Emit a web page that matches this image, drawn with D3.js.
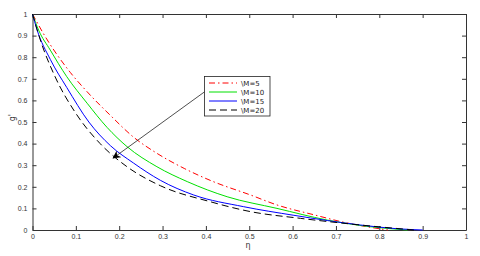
<!DOCTYPE html>
<html>
<head>
<meta charset="utf-8">
<script src="https://cdn.jsdelivr.net/npm/d3@7.9.0/dist/d3.min.js"></script>
<style>
  body { margin: 0; background: #fff; }
  svg { display: block; font-family: "DejaVu Sans", sans-serif; }
  .axis text { font-size: 7px; fill: #333; }
  .axis path, .axis line { stroke: #333; }
</style>
</head>
<body>
<div id="chart"></div>
<script>
// series values: [eta, g'] pairs
const seriesNames = ["\\M=5", "\\M=10", "\\M=15", "\\M=20"];
const m5 = [[0,1],[0.025,0.91],[0.087,0.73],[0.126,0.64],[0.18,0.53],[0.233,0.43],[0.283,0.36],[0.35,0.285],[0.417,0.224],[0.503,0.162],[0.564,0.116],[0.65,0.07],[0.72,0.035],[0.772,0.015],[0.82,0]];
const m10 = [[0,1],[0.014,0.926],[0.041,0.833],[0.079,0.71],[0.126,0.587],[0.172,0.475],[0.218,0.386],[0.287,0.293],[0.357,0.224],[0.449,0.154],[0.564,0.1],[0.68,0.046],[0.78,0.015],[0.865,0]];
const m15 = [[0,1],[0.01,0.93],[0.041,0.79],[0.079,0.66],[0.13,0.5],[0.18,0.39],[0.233,0.31],[0.295,0.23],[0.372,0.162],[0.487,0.108],[0.603,0.068],[0.757,0.023],[0.84,0.006],[0.9,0]];
const m20 = [[0,1],[0.018,0.88],[0.052,0.71],[0.1,0.54],[0.156,0.40],[0.218,0.293],[0.295,0.205],[0.41,0.131],[0.503,0.085],[0.618,0.054],[0.757,0.023],[0.88,0]];
const allSeries = [m5, m10, m15, m20];
const colors = ["#ff0000", "#00e000", "#0000ff", "#000000"];
const dashes = ["6,3,1.5,3", null, null, "7,4"];

const xTicks = [0, 0.1, 0.2, 0.3, 0.4, 0.5, 0.6, 0.7, 0.8, 0.9, 1];
const yTicks = [0, 0.1, 0.2, 0.3, 0.4, 0.5, 0.6, 0.7, 0.8, 0.9, 1];

const width = 480, height = 256;
const margin = { top: 14, right: 14, bottom: 26, left: 32.5 };

const svg = d3.select("#chart").append("svg")
  .attr("width", width).attr("height", height);

const x = d3.scaleLinear().domain([0, 1]).range([margin.left, width - margin.right]);
const y = d3.scaleLinear().domain([0, 1]).range([height - margin.bottom, margin.top]);

const fmt = (d) => (d === 0 || d === 1 ? String(d) : d3.format(".1f")(d));

// axes, ticks pointing inward like matlab
svg.append("g").attr("class", "axis")
  .attr("transform", `translate(0,${y(0)})`)
  .call(d3.axisBottom(x).tickValues(xTicks).tickFormat(fmt).tickSizeInner(-4).tickSizeOuter(0).tickPadding(4));
svg.append("g").attr("class", "axis")
  .attr("transform", `translate(0,${y(1)})`)
  .call(d3.axisTop(x).tickValues(xTicks).tickFormat("").tickSizeInner(-4).tickSizeOuter(0));
svg.append("g").attr("class", "axis")
  .attr("transform", `translate(${x(0)},0)`)
  .call(d3.axisLeft(y).tickValues(yTicks).tickFormat(fmt).tickSizeInner(-4).tickSizeOuter(0).tickPadding(5));
svg.append("g").attr("class", "axis")
  .attr("transform", `translate(${x(1)},0)`)
  .call(d3.axisRight(y).tickValues(yTicks).tickFormat("").tickSizeInner(-4).tickSizeOuter(0));

// curves
const line = d3.line()
  .x((d) => x(d[0]))
  .y((d) => y(d[1]))
  .curve(d3.curveMonotoneX);

allSeries.forEach((s, i) => {
  svg.append("path")
    .datum(s)
    .attr("d", line)
    .attr("fill", "none")
    .attr("stroke", colors[i])
    .attr("stroke-width", 1)
    .attr("stroke-dasharray", dashes[i]);
});

// axis labels
svg.append("text")
  .attr("x", x(0.497)).attr("y", 248)
  .attr("text-anchor", "middle")
  .attr("font-size", 8).attr("fill", "#333")
  .text("η");
svg.append("text")
  .attr("transform", `translate(15,${y(0.52)}) rotate(-90)`)
  .attr("text-anchor", "middle")
  .attr("font-size", 8).attr("fill", "#333")
  .text("g'");

// arrow annotation
svg.append("defs").append("marker")
  .attr("id", "head")
  .attr("viewBox", "0 0 10 10")
  .attr("refX", 9).attr("refY", 5)
  .attr("markerWidth", 8).attr("markerHeight", 8)
  .attr("markerUnits", "userSpaceOnUse")
  .attr("orient", "auto")
  .append("path").attr("d", "M0,0 L10,5 L0,10 L3,5 z").attr("fill", "#000");

svg.append("line")
  .attr("x1", 205).attr("y1", 91.5)
  .attr("x2", x(0.186)).attr("y2", y(0.333))
  .attr("stroke", "#222").attr("stroke-width", 0.8)
  .attr("marker-end", "url(#head)");

// legend
const legend = svg.append("g").attr("transform", "translate(204.5,76.5)");
legend.append("rect")
  .attr("width", 65.5).attr("height", 39.5)
  .attr("fill", "#fff").attr("stroke", "#222").attr("stroke-width", 0.8);
seriesNames.forEach((name, i) => {
  const ly = 6.5 + i * 9;
  legend.append("line")
    .attr("x1", 4.5).attr("x2", 32.5).attr("y1", ly).attr("y2", ly)
    .attr("stroke", colors[i]).attr("stroke-width", 1)
    .attr("stroke-dasharray", dashes[i]);
  legend.append("text")
    .attr("x", 36.5).attr("y", ly + 2.5)
    .attr("font-size", 7).attr("fill", "#222")
    .text(name);
});
</script>
</body>
</html>
